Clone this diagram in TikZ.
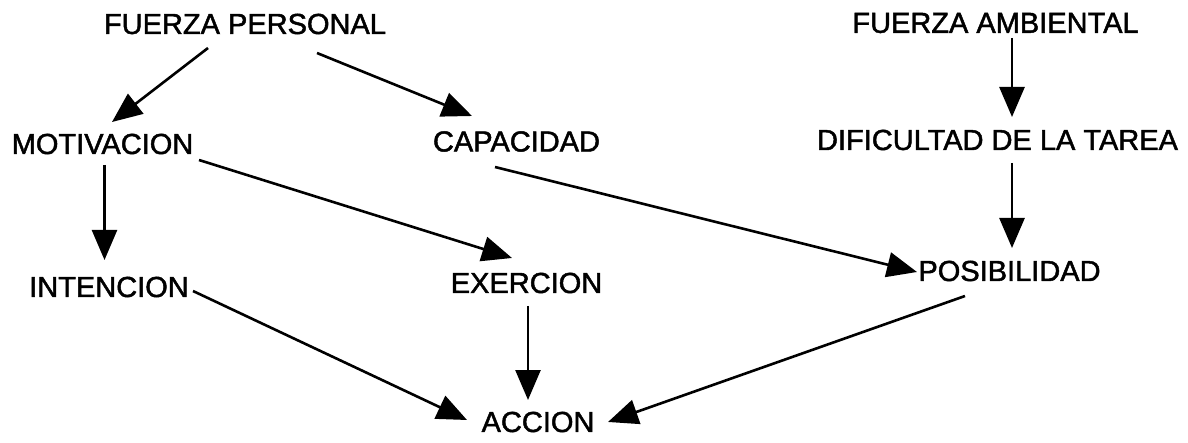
\documentclass[tikz,border=0pt]{standalone}
\usepackage{fontspec}
\setmainfont{Liberation Sans}
\newfontfamily\lblfont{Liberation Sans}[FakeBold=1.6]
\usetikzlibrary{arrows.meta}
\begin{document}
\begin{tikzpicture}[x=1pt,y=-1pt,
  lbl/.style={inner sep=0pt,font=\lblfont\fontsize{29}{30}\selectfont},
  arr/.style={line width=2.6pt,-{Triangle[length=30pt,width=25pt]}}]
\useasboundingbox (0,0) rectangle (1188,443);
\node[lbl] (fp)  at (245,24)    {FUERZA PERSONAL};
\node[lbl] (fa)  at (995.5,23)  {FUERZA AMBIENTAL};
\node[lbl] (mot) at (102.5,144) {MOTIVACION};
\node[lbl] (cap) at (516.5,141.5) {CAPACIDAD};
\node[lbl] (dif) at (997.5,140) {DIFICULTAD DE LA TAREA};
\node[lbl] (int) at (109,287)   {INTENCION};
\node[lbl] (exe) at (526.5,283) {EXERCION};
\node[lbl] (pos) at (1009.5,271) {POSIBILIDAD};
\node[lbl] (acc) at (538,422)   {ACCION};
\draw[arr] ([shift={(-37,24)}]fp.center) -- ([shift={(9.5,-22)}]mot.center);
\draw[arr] ([shift={(72,29)}]fp.center) -- ([shift={(-44.5,-25.5)}]cap.center);
\draw[arr] ([shift={(16.5,15)}]fa.center) -- ([shift={(14.5,-23)}]dif.center);
\draw[arr] ([shift={(14.5,23)}]dif.center) -- ([shift={(2.5,-23)}]pos.center);
\draw[arr] ([shift={(2,21)}]mot.center) -- ([shift={(-4.5,-27)}]int.center);
\draw[arr] ([shift={(96.5,16)}]mot.center) -- ([shift={(-14.5,-25)}]exe.center);
\draw[arr] ([shift={(-21.5,25.5)}]cap.center) -- ([shift={(-92.5,1)}]pos.center);
\draw[arr] ([shift={(84,4)}]int.center) -- ([shift={(-71,-2)}]acc.center);
\draw[arr] ([shift={(1.5,23)}]exe.center) -- ([shift={(-10,-22)}]acc.center);
\draw[arr] ([shift={(-44.5,25)}]pos.center) -- ([shift={(70,0)}]acc.center);
\end{tikzpicture}
\end{document}
